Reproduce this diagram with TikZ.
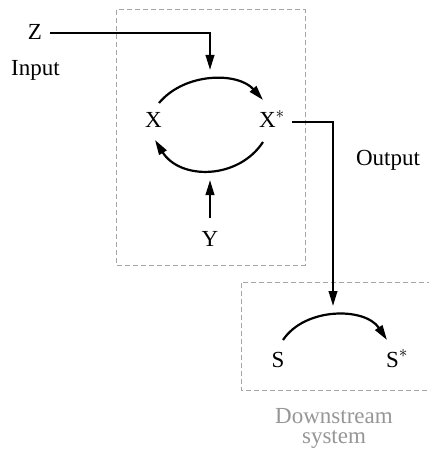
\documentclass[tikz,border=0pt]{standalone}
\usepackage{fontspec}
\setmainfont{Liberation Serif}
\usetikzlibrary{arrows.meta}
\definecolor{boxgray}{RGB}{165,165,165}
\definecolor{txtgray}{RGB}{150,150,150}
\begin{document}
\begin{tikzpicture}[x=1pt,y=-1pt,
  lbl/.style={inner sep=0pt,anchor=base,font=\fontsize{23}{26}\selectfont},
  conn/.style={line width=2.2pt,-{Triangle[length=15pt,width=8.5pt]}},
  region/.style={draw=boxgray,line width=1pt,dash pattern=on 5pt off 3pt}]
\useasboundingbox (0,0) rectangle (428,449);
% boxes
\draw[region] (116,10) rectangle (305,265);
\draw[region] (432,282) -- (241,282) -- (241,390) -- (432,390);
% labels
\node[lbl] (Z) at (35,40) {Z};
\node[lbl] (input) at (35.5,76) {Input};
\node[lbl] (X) at (153.5,128) {X};
\node[lbl] (Xs) at (272,128) {X$^{*}$};
\node[lbl] (Y) at (210,246.5) {Y};
\node[lbl] (output) at (388,165) {Output};
\node[lbl] (S) at (278,367) {S};
\node[lbl] (Ss) at (397,367) {S$^{*}$};
\node[inner sep=0pt,anchor=north,text=txtgray,align=center,
  font=\fontsize{23}{20}\selectfont] (down) at (334,407.8) {Downstream\\system};
% coordinates
\coordinate (zs) at (50,33);
\coordinate (zin) at (210,70);
\coordinate (t1) at (159,103);
\coordinate (t2) at (263,100);
\coordinate (b1) at (263,142);
\coordinate (b2) at (155,140);
\coordinate (ys) at (210,218);
\coordinate (yin) at (210,180);
\coordinate (xo) at (292,122);
\coordinate (sin) at (333,306);
\coordinate (s1) at (283,340);
\coordinate (s2) at (387,340);
% connectors
\draw[conn] (zs) -| (zin);
\draw[conn] (t1) .. controls (185,72) and (238,72) .. (t2);
\draw[conn] (b1) .. controls (238,180) and (180,180) .. (b2);
\draw[conn] (ys) -- (yin);
\draw[conn] (xo) -| (sin);
\draw[conn] (s1) .. controls (305,307) and (365,307) .. (s2);
\end{tikzpicture}
\end{document}
